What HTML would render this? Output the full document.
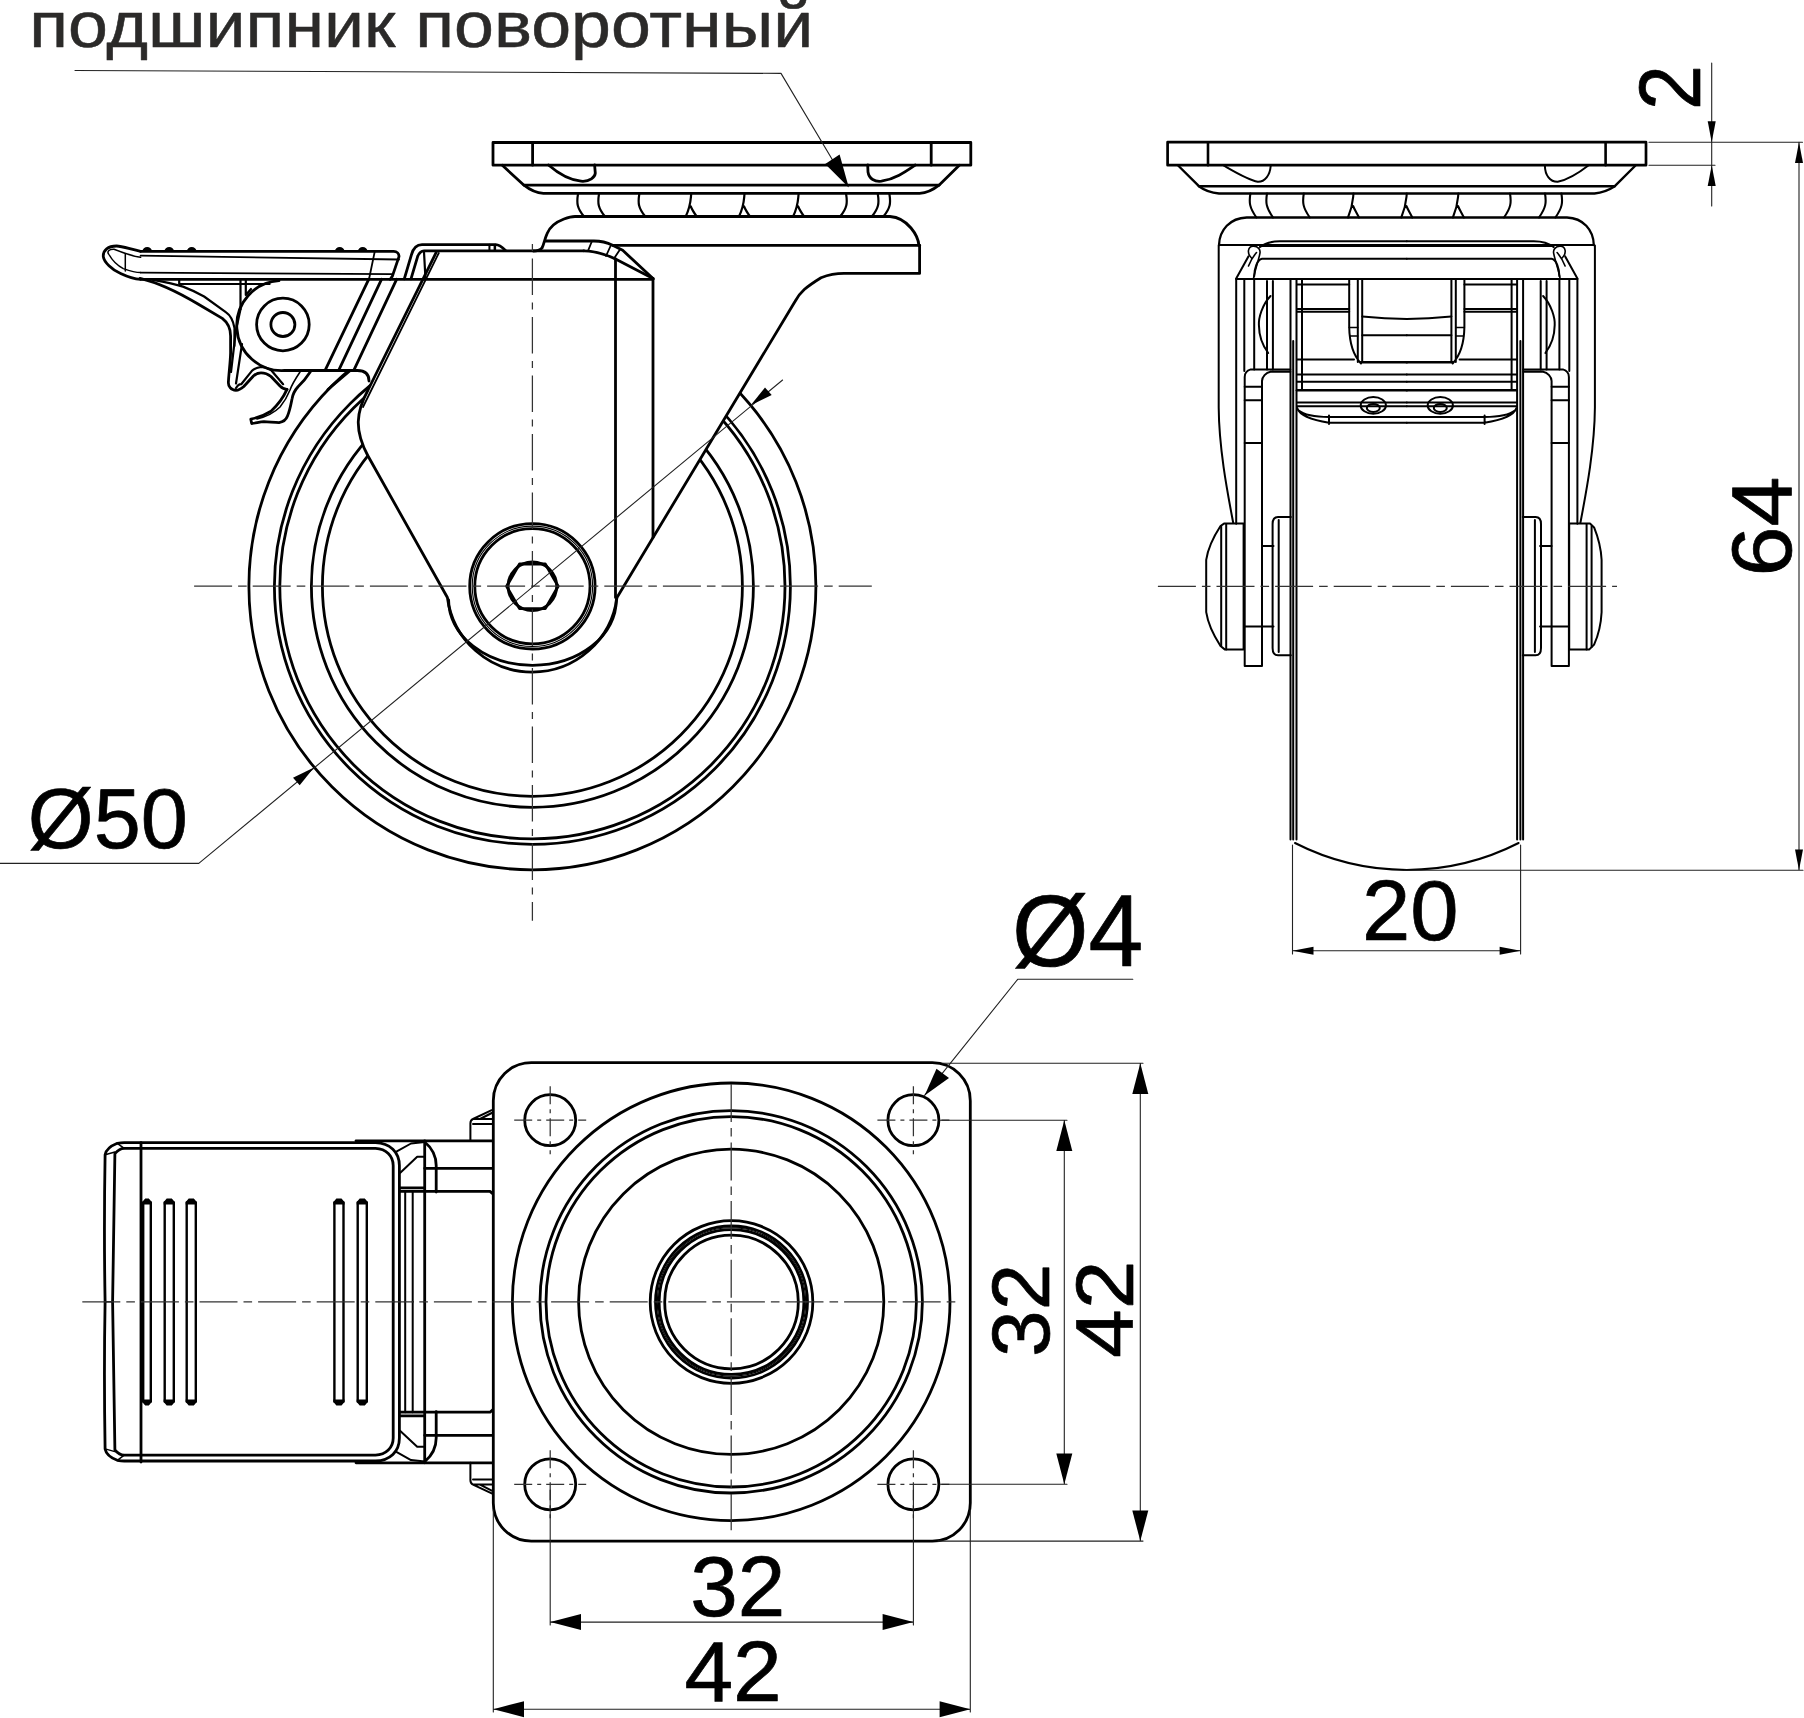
<!DOCTYPE html>
<html><head><meta charset="utf-8">
<style>
html,body{margin:0;padding:0;background:#fff;width:1804px;height:1718px;overflow:hidden}
svg{display:block}
.t{font-family:"Liberation Sans",sans-serif}
</style></head>
<body>
<svg width="1804" height="1718" viewBox="0 0 1804 1718">
<rect width="1804" height="1718" fill="#fff"/>
<g fill="none" stroke-linecap="round" stroke-linejoin="round">

<!-- ============ TEXTS ============ -->
<g class="t" fill="#000" stroke="#000" stroke-width="0.7" id="texts">
  <text x="29.2" y="46.6" font-size="64" fill="#2b2a29" stroke="#2b2a29" stroke-width="0.5" textLength="784" lengthAdjust="spacingAndGlyphs">подшипник поворотный</text>
  <text x="1362.00" y="940.00" font-size="86.04" textLength="96.68" lengthAdjust="spacingAndGlyphs">20</text>
  <text x="27.80" y="848.30" font-size="85.33" textLength="160.08" lengthAdjust="spacingAndGlyphs">Ø50</text>
  <text x="1012.00" y="965.50" font-size="101.07" textLength="131.34" lengthAdjust="spacingAndGlyphs">Ø4</text>
  <text x="690.20" y="1616.00" font-size="84.33" textLength="95.00" lengthAdjust="spacingAndGlyphs">32</text>
  <text x="684.40" y="1700.50" font-size="86.05" textLength="97.43" lengthAdjust="spacingAndGlyphs">42</text>
  <text transform="translate(1700.00 110.00) rotate(-90)" x="0" y="0" font-size="86.91" textLength="44.91" lengthAdjust="spacingAndGlyphs">2</text>
  <text transform="translate(1791.00 576.50) rotate(-90)" x="0" y="0" font-size="85.21" textLength="99.99" lengthAdjust="spacingAndGlyphs">64</text>
  <text transform="translate(1048.50 1357.00) rotate(-90)" x="0" y="0" font-size="82.10" textLength="93.31" lengthAdjust="spacingAndGlyphs">32</text>
  <text transform="translate(1132.50 1358.00) rotate(-90)" x="0" y="0" font-size="81.57" textLength="97.58" lengthAdjust="spacingAndGlyphs">42</text>
</g>

<!-- SIDE VIEW -->
<g id="side" stroke="#000" stroke-width="2.8">
  <!-- wheel circles -->
  <circle cx="532.4" cy="586.3" r="283.5"/>
  <circle cx="532.4" cy="586.3" r="258"/>
  <circle cx="532.4" cy="586.3" r="252.6"/>
  <circle cx="532.4" cy="586.3" r="221"/>
  <circle cx="532.4" cy="586.3" r="210"/>
  <!-- fork white fill -->
  <path fill="#fff" stroke="none" d="M437 244 L360 408.5 C355 418 356 436 368 456 L447.4 597.5 A85.5 85.5 0 0 0 617 597.5 L795 301.5 C800 292 806 287 821 277.7 L844 273.4 L920 273.4 L920 244 Z"/>
  <!-- lug/arm white fill -->
  <path fill="#fff" stroke="none" d="M282.9 280.6 A44 44 0 0 0 282.9 370.5 L357.4 370.5 Q369 371 369 382 L440 279 Z"/>
  <!-- fork edges -->
  <path d="M436.3 252.2 L368.3 389.5 C356 412 354 430 368 456 L447.4 597.5 A85.5 85.5 0 0 0 617 597.5 L795 301.5 C800 292 806 287 821 277.7 C828 275 836 273.4 844 273.4 L919.6 273.4 V245.3"/>
  <path d="M438.8 253 L363 407" stroke-width="1.8"/>
  <path d="M424 252 L425.5 279" stroke-width="2.2"/>
  <path d="M448.6 600 A83.85 65.3 0 0 0 616.3 600"/>
  <!-- fork verticals -->
  <path d="M615.5 259 V597.5 M653 278.5 V537.6"/>
  <!-- hub -->
  <circle cx="532.4" cy="586.3" r="62.7"/>
  <circle cx="532.4" cy="586.3" r="60.2" stroke-width="1.1"/>
  <circle cx="532.4" cy="586.3" r="57.6"/>
  <circle cx="532.4" cy="586.3" r="24.3"/>
  <path d="M506.6 586.3 L519.5 564 H545.3 L558.2 586.3 L545.3 608.6 H519.5 Z" stroke-width="2.8"/>
  <!-- long top line of fork body -->
  <path d="M140.6 279.3 H653"/>
  <!-- lug -->
  <path d="M279 280.6 A44 44 0 0 0 284.5 370.5 H357.4 C365 370.5 369 374 369 381"/>
  <circle cx="282.9" cy="324.5" r="26.3"/>
  <circle cx="282.9" cy="324.5" r="12"/>
  <!-- lever lines -->
  <path d="M325.2 370.1 L368.7 279.3 M338.8 370.1 L381.5 279.3 M353.9 370.1 L396.6 279.3"/>
  <path d="M327.9 389.5 L349.7 370.9"/>
  <!-- brace -->
  <path d="M404.3 278.8 L411.4 254.8 C413 249 416 244.6 422 244.6 H495.7 C499 244.6 502 247 505.5 250.5"/>
  <path d="M411 278.8 L417.6 256.6 C419 253 421 250.8 424 250.8 H583.8"/>
  <path d="M489.5 244.6 V250.8 M495.3 244.6 V250.8" stroke-width="1.6"/>
  <!-- pedal -->
  <path d="M140.6 251.3 H393.7 C397 251.3 399 254 399 256.6 L392.4 276.1 L390.2 279.3"/>
  <path d="M140.6 255.7 L399 259.5" stroke-width="1.8"/>
  <path d="M140.6 272.6 L392.4 274.2" stroke-width="1.8"/>
  <path d="M374.6 252.2 L368.9 279.7" stroke-width="1.8"/>
  <path d="M140.6 251.3 C130 249 122 246 116.6 246 C108 246 103 250 103.3 256.6 C104 262 112 270 120.6 273.5 C128 277 135 279 140.6 279.3"/>
  <path d="M140.6 257.3 C133 256.5 126 254 114 249.3 C108.6 249 107 252 108.6 254 C112 260 118 266 123.3 268.6 C130 271 136 272.6 140.6 272.6" stroke-width="1.5"/>
  <path d="M125.3 254 V271" stroke-width="1.5"/>
  <g fill="#000" stroke="none">
    <path d="M142.5 251.3 a4.7 4.2 0 0 1 9.4 0Z M164.5 251.3 a4.7 4.2 0 0 1 9.4 0Z M187 251.3 a4.7 4.2 0 0 1 9.4 0Z M335 251.3 a4.7 4.2 0 0 1 9.4 0Z M358 251.3 a4.7 4.2 0 0 1 9.4 0Z"/>
  </g>
  <!-- arm below pedal -->
  <path d="M179.2 284 H269.6 M179.2 279.3 V284" stroke-width="2.2"/>
  <path d="M240.5 280 V309.3 M245.8 280 V295 L251 289" stroke-width="2.2"/>
  <path d="M140 278.3 C160 283 178 292 198 304 L222.3 318.4 C227 322 230.6 328 230.6 336 L230.6 353 C230.4 362 229 372 228.4 382 C228 386 231 390.3 235.9 390.3 C239 390.3 241 389 243.8 386.5 L253.4 376 C256 373.5 258 372.8 261 372.8 C265 372.8 268 374 271 376.5 L280 386 C282 388 284 389.4 287 389.4"/>
  <path d="M152.7 279.8 C165 282 175 284 183 286.6 C192 290 198 293 204.1 296.5 L226.1 312.4 C230 315 233 320 234.5 328 L234.4 346" stroke-width="2.2"/>
  <path d="M240.5 309.3 L235.9 330.5 L231 372 M242 344 L236 383.5 M236 388 C238 385 240 384 241.2 384.2 L251.7 371.1 C254 368.5 257 367.5 261 367 C265 367 268 368 271 370 L283.1 384.2" stroke-width="2.2"/>
  <!-- hook -->
  <path d="M287 389.4 C284 396 280 403 271 411.2 C265 415 257 418 250.8 419.1 L251.7 423.5 C256 423 260 422 264 421.7 C270 422 275 422.6 279 422.6 C283 422 286 420 287.5 416 C290 410 291 404 292 399 C293 393 296 389 298 386.8 C302 383 305 380 310.2 372"/>
  <path d="M257 419 C265 417 274 413 280 407 C285 401 288 395 290 390 C292 384 296 378 300 372" stroke-width="1.6"/>
  <!-- top assembly -->
  <rect x="493" y="142.5" width="477.8" height="22.7" fill="#fff"/>
  <path d="M532.6 142.5 V165.2 M931.2 142.5 V165.2"/>
  <path d="M502.3 165.3 L524 185.2 H939 L959.3 165.3"/>
  <path d="M524 185.2 C530 190 536 193 543.4 193.4 H919.6 C927 193 933 190 939 185.2"/>
  <path d="M548.5 165 C560 175 570 180 581 181.2 C590 182 595 177 595.3 173.2 L594.6 165"/>
  <path d="M867.7 165 L868 172 C869 179 875 182 881.4 181.2 C895 179 905 172 915.3 165"/>
  <path d="M578 194 C576.5 203 577 208 584 216.5 M599 194 C597.5 203 598 208 605 216.5 M639.3 194 C637.8 203 638.3 208 645.3 216.5 M691.2 194 C690.4000000000001 202 690.7 206 685.7 216.5 M690.8000000000001 206.5 C692.2 210 694.2 213 696.7 216.5 M744.5 194 C743.7 202 744.0 206 739.0 216.5 M744.1 206.5 C745.5 210 747.5 213 750.0 216.5 M798.6 194 C797.8000000000001 202 798.1 206 793.1 216.5 M798.2 206.5 C799.6 210 801.6 213 804.1 216.5 M846.1 194 C847.6 203 847.1 208 840.1 216.5 M877.8 194 C879.3 203 878.8 208 871.8 216.5 M889.4 194 C890.9 203 890.4 208 883.4 216.5" stroke-width="2.2"/>
  <!-- housing -->
  <path d="M533.3 251 C537 251 540 250 542 248 C544 244 545 238 547 233.8 C550 226 556 222 564 219 C568 217.5 572 216.5 575 216.5 H890 C898 217 906 222 911 228 C916 234 918.5 240 918.9 245.3"/>
  <path d="M545.6 241 H593.9 C600 241 607 242.5 612.6 245.3 L622.7 250.3 L653 278.5"/>
  <path d="M612.6 245.3 H919.6"/>
  <path d="M583.8 250.8 C595 251 605 254 615.5 259 L653 278.5"/>
  <path d="M592 241 L588 250.8 M611 245 L606 256 M620 249.5 L614 258.5" stroke-width="1.8"/>
  <path d="M494.4 245.3 V250.8 M489.4 245.3 V250.8" stroke-width="1.6"/>
</g>

<!-- FRONT VIEW -->
<g id="front" stroke="#000" stroke-width="2">
  <!-- plate -->
  <rect x="1167.6" y="142.2" width="478.4" height="23" stroke-width="2.7"/>
  <path d="M1208 142.2V165.2M1605.6 142.2V165.2" stroke-width="2.6"/>
  <path d="M1178.6 166L1198.9 186.2H1614.8L1635 166" stroke-width="2.4"/>
  <path d="M1198.9 186.2C1204 190 1210 192.6 1219 193.5H1594.5C1603 192.6 1609 190 1614.8 186.2" stroke-width="2.4"/>
  <path d="M1222.8 165C1235 172 1248 180 1257.8 181.8C1265 182 1270 175 1270.7 166M1544.9 166C1545 175 1550 182 1557.7 181.8C1567 180 1580 172 1589 165"/>
  <path d="M1250.4 193.5 C1248.9 202.5 1249.4 207.5 1256.4 217.5 M1267 193.5 C1265.5 202.5 1266 207.5 1273 217.5 M1303.8 193.5 C1302.3 202.5 1302.8 207.5 1309.8 217.5 M1353.5 193.5 C1352.7 201.5 1353.0 205.5 1348.0 217.5 M1353.1 206.0 C1354.5 209.5 1356.5 212.5 1359.0 217.5 M1406.8 193.5 C1406.0 201.5 1406.3 205.5 1401.3 217.5 M1406.3999999999999 206.0 C1407.8 209.5 1409.8 212.5 1412.3 217.5 M1458.4 193.5 C1457.6000000000001 201.5 1457.9 205.5 1452.9 217.5 M1458.0 206.0 C1459.4 209.5 1461.4 212.5 1463.9 217.5 M1510 193.5 C1511.5 202.5 1511 207.5 1504 217.5 M1545 193.5 C1546.5 202.5 1546 207.5 1539 217.5 M1561.4 193.5 C1562.9 202.5 1562.4 207.5 1555.4 217.5" stroke-width="2.1"/>
  <path d="M1246.7 217.5H1567C1583 218 1593.5 230 1593.8 245.1M1246.7 217.5C1230 218 1219.5 230 1219 245.1" stroke-width="2.3"/>
  <path d="M1219 245.1H1593.8"/>
  <g id="fhalf">
    <path d="M1218.7 245.4V407.6C1219 450 1228 495 1233.2 522.8"/>
    <path d="M1260 247.1C1265 243 1272 241.3 1279.8 241.3H1406.8M1260 246H1406.8"/>
    <path d="M1406.8 258.8H1262C1257 260 1254.5 268 1254.2 276.2"/>
    <path d="M1251.5 258C1246.5 253 1248 246.5 1253 246.3C1258 246 1261 249.5 1259.8 254C1258 262 1255 270 1253.5 278.5M1248.5 266C1250.5 261 1253 256.5 1256.5 252.5" stroke-width="1.6"/>
    <path d="M1236.2 278.6L1248.4 256.4"/>
    <path d="M1236.2 279.1H1406.8"/>
    <path d="M1236.2 279V523.8M1244.3 279V371M1254.2 279V369.4M1267 281V369.4M1272.9 281V369.4M1290.5 279V839.4M1293.2 341V839.4M1296.5 279V839.4M1302 279V389.1"/>
    <path d="M1270.5 296C1262 305 1258.5 318 1258.9 325.1C1259 335 1262 345 1268.2 353"/>
    <path d="M1244.7 665.9V377C1244.7 372.5 1247 370.5 1250.7 369.4H1290.3M1262 665.9V381C1262 377 1266 372.5 1270.5 371.7H1290.3M1244.7 665.9H1262"/>
    <path d="M1244.7 386.8H1262M1244.7 400.2H1262M1244.7 443.1H1262M1244.7 626.5H1262"/>
    <path d="M1297 284.4H1349.2M1297 308.9H1349.2M1297 311.8H1349.2M1297 359.4H1354M1297 374.5H1406.8M1297 381.7H1406.8"/>
    <path d="M1297 390.3H1406.8" stroke-width="2.6"/>
    <path d="M1349.2 280V327C1349.5 345 1354 356 1361 363.5M1357.8 280V362M1362.2 280V362"/>
    <path d="M1361 362.3H1406.8" stroke-width="2.6"/>
    <path d="M1349.2 327.5H1357.8M1350 336H1357.8" stroke-width="1.5"/>
    <path d="M1362.2 316.4Q1385 318.5 1406.8 319M1362.2 335.3H1406.8"/>
    <path d="M1297 402.6H1406.8M1297 406.2H1406.8M1297.3 408.4C1300 416 1312 420 1329 422.8H1406.8M1298 410C1303 414 1314 417 1329 417H1406.8M1329 415.5V424"/>
    <ellipse cx="1373.3" cy="405.4" rx="12.6" ry="8.3"/>
    <ellipse cx="1373.3" cy="407.9" rx="6.5" ry="4"/>
    <!-- hub -->
    <path d="M1290.8 517H1278C1274 517 1272.6 520 1272.6 524V648C1272.6 652 1274 655.3 1278 655.3H1290.8M1278.7 520V652"/>
    <path d="M1262 545.9H1273.5M1262 626.5H1273.5"/>
  </g>
  <use href="#fhalf" transform="translate(2813.6 0) scale(-1 1)"/>
  <path d="M1243.6 523.6H1224L1220.5 526C1214 536 1208 548 1206.2 559.8V612.2C1208 624 1214 636 1220.5 646L1225 649.6H1243.6Z"/>
  <path d="M1221.2 526V646M1226.2 524V649.6"/>
  <path d="M1569.2 523.6H1590L1594.1 527.4C1598 537 1601 548 1601.6 559.8V612.2C1601 624 1598 636 1594.1 644.6L1589.1 649.6H1569.2Z"/>
  <path d="M1586.6 524V649.6M1591.6 526V647"/>
  <path d="M1295 843A245.8 245.8 0 0 0 1518.6 843" stroke-width="2"/>
</g>

<!-- BOTTOM VIEW -->
<g id="bottom" stroke="#000" stroke-width="2.8">
  <!-- pedal top view (symmetric halves) -->
  <g id="pedhalf">
    <path d="M105.1 1301.8 Q103.8 1230 105.1 1154.7 C106 1150 109 1146.6 117.3 1143.3 C120 1142.8 122 1142.6 124.2 1142.6 H375.5 C390 1143 399.4 1152 399.4 1165.6 V1301.8"/>
    <path d="M112.6 1301.8 Q113.5 1230 114.9 1153.6 C118 1150 121 1148.4 124.2 1148.4 H375.5 C386 1148.8 393.2 1156 393.2 1165.6 V1301.8"/>
    <path d="M105.1 1154.7 L114.9 1152 M117.3 1143.3 L124.2 1148.4" stroke-width="1.5"/>
    <path d="M356 1140.8 H493"/>
    <path d="M424.7 1140.8 V1301.8"/>
    <path d="M424.7 1142 C432 1148 436.2 1156 436.2 1165.6 V1192"/>
    <path d="M424.7 1168.3 H493 M399.4 1191.4 H490 L493 1194 M400 1187.8 H424.7"/>
    <path d="M400.3 1172.7 L417.2 1156.8 H424.7 M396.8 1151.4 L411 1143.5 L424.7 1142" stroke-width="2"/>
    <path d="M405.2 1191.4 V1301.8 M412.7 1191.4 V1301.8" stroke-width="2"/>
    <path d="M470.4 1140.8 V1123.5 C470.4 1121 471.5 1119.5 473 1119 H493 M473 1124 H493 M473 1119 L491.7 1110.2 M480 1119 L491.7 1113" stroke-width="2"/>
  </g>
  <use href="#pedhalf" transform="translate(0 2603.6) scale(1 -1)"/>
  <path d="M141 1142.6 V1462"/>
  <path d="M112.6 1301.8 H105.1" stroke-width="1.6"/>
  <!-- slots -->
  <g stroke-width="2.4">
    <path d="M143.2 1202.5V1401.5M150.8 1202.5V1401.5"/>
    <path d="M164.7 1202.5V1401.5M173.8 1202.5V1401.5"/>
    <path d="M186.7 1202.5V1401.5M195.8 1202.5V1401.5"/>
    <path d="M334.4 1202.5V1401.5M343.5 1202.5V1401.5"/>
    <path d="M357.7 1202.5V1401.5M366.8 1202.5V1401.5"/>
    <path d="M142.2 1204.5V1202L145.2 1198.5H148.8L151.8 1202V1204.5Z M142.2 1399.5V1402L145.2 1405.5H148.8L151.8 1402V1399.5Z M163.7 1204.5V1202L166.7 1198.5H171.8L174.8 1202V1204.5Z M163.7 1399.5V1402L166.7 1405.5H171.8L174.8 1402V1399.5Z M185.7 1204.5V1202L188.7 1198.5H193.8L196.8 1202V1204.5Z M185.7 1399.5V1402L188.7 1405.5H193.8L196.8 1402V1399.5Z M333.4 1204.5V1202L336.4 1198.5H341.5L344.5 1202V1204.5Z M333.4 1399.5V1402L336.4 1405.5H341.5L344.5 1402V1399.5Z M356.7 1204.5V1202L359.7 1198.5H364.8L367.8 1202V1204.5Z M356.7 1399.5V1402L359.7 1405.5H364.8L367.8 1402V1399.5Z " fill="#000" stroke="none"/>
  </g>
  <!-- plate -->
  <rect x="493.3" y="1062.7" width="477" height="478.4" rx="38" fill="#fff"/>
  <g>
    <circle cx="731.2" cy="1301.8" r="218.8"/>
    <circle cx="731.2" cy="1301.8" r="191.2"/>
    <circle cx="731.2" cy="1301.8" r="185.2"/>
    <circle cx="731.2" cy="1301.8" r="152.6"/>
    <circle cx="731.5" cy="1302" r="81.3"/>
    <circle cx="731.5" cy="1302" r="76"/>
    <circle cx="731.5" cy="1302" r="74.2" stroke-width="1.1"/>
    <circle cx="731.5" cy="1302" r="72.4"/>
    <circle cx="731.5" cy="1302" r="66.8"/>
    <circle cx="550.2" cy="1120.2" r="25.5"/>
    <circle cx="913.4" cy="1120.2" r="25.5"/>
    <circle cx="550.2" cy="1484.3" r="25.5"/>
    <circle cx="913.4" cy="1484.3" r="25.5"/>
  </g>
</g>

<!-- ============ CENTER LINES ============ -->
<g id="cl" stroke="#333" stroke-width="1.25" stroke-linecap="butt">
  <path d="M194.1 586.2H871.8" stroke-dasharray="38 6 8.6 6"/>
  <path d="M532.4 244V920.8" stroke-dasharray="36.5 7.5 7 7.5" stroke-dashoffset="44"/>
  <path d="M1157.9 586.4H1617" stroke-dasharray="38 6 8.6 6"/>
  <path d="M82.3 1301.8H958.2" stroke-dasharray="38 6 8.6 6"/>
  <path d="M731.2 1083.9V1530.3" stroke-dasharray="38 6 8.6 6"/>
  <path d="M514.2 1120.2H586.2M550.2 1086.2V1154.2" stroke-dasharray="18 5 4 5"/>
  <path d="M877.4 1120.2H949.4M913.4 1086.2V1154.2" stroke-dasharray="18 5 4 5"/>
  <path d="M514.2 1484.3H586.2M550.2 1450.3V1518.3" stroke-dasharray="18 5 4 5"/>
  <path d="M877.4 1484.3H949.4M913.4 1450.3V1518.3" stroke-dasharray="18 5 4 5"/>
</g>

<!-- ============ DIMENSIONS ============ -->
<g id="dims" stroke="#222" stroke-width="1.1">
  <!-- leader top -->
  <path d="M75 70.5L781 73.4L848 186"/>
  <!-- 2 -->
  <path d="M1649 142.3H1802.5M1649 165.3H1715M1711.7 63V206"/>
  <!-- 64 -->
  <path d="M1799 142.3V870M1404 870.2H1803"/>
  <!-- 20 -->
  <path d="M1292.5 845V954M1520.6 845V954M1292.5 950.7H1520.6"/>
  <!-- Ø50 leader -->
  <path d="M0 863.4H198.8L782.6 380"/>
  <!-- Ø4 leader -->
  <path d="M924.6 1095.4L1017.7 979.3H1132.8"/>
  <!-- bottom 32 / 42 horizontal -->
  <path d="M550.2 1490V1625M913.4 1490V1625M550.2 1622.1H913.4"/>
  <path d="M493.3 1510V1712M970.3 1510V1712M493.3 1709.2H970.3"/>
  <!-- right 32 / 42 vertical -->
  <path d="M940 1120.3H1067M940 1484.3H1067M1064.3 1120.3V1484.3"/>
  <path d="M943 1063.3H1143M938 1541.1H1143M1140.3 1063.3V1541.1"/>
</g>
<g id="arrows" fill="#000" stroke="none">
  <!-- leader arrow top -->
  <path d="M848.8 187.5L825.2 163.9L839.6 154.5Z"/>
  <!-- 2 -->
  <path d="M1711.7 142.3L1707.7 121.3H1715.7Z"/>
  <path d="M1711.7 165.3L1707.7 186H1715.7Z"/>
  <!-- 64 -->
  <path d="M1799 142.3L1795 163H1803Z"/>
  <path d="M1799 870.2L1795 849.5H1803Z"/>
  <!-- 20 -->
  <path d="M1292.5 950.7L1313.5 946.7V954.7Z"/>
  <path d="M1520.6 950.7L1499.6 946.7V954.7Z"/>
  <!-- Ø50 -->
  <path d="M314 767.5L293 777.7L299.7 785.2Z"/>
  <path d="M750.7 405.3L771.7 395.1L765 387.6Z"/>
  <!-- Ø4 -->
  <path d="M924.6 1095.4L936.5 1068.8L949 1077.9Z"/>
  <!-- 32 h -->
  <path d="M550.2 1622.1L581 1614.1V1630.1Z"/>
  <path d="M913.4 1622.1L882.6 1614.1V1630.1Z"/>
  <!-- 42 h -->
  <path d="M493.3 1709.2L524 1701.2V1717.2Z"/>
  <path d="M970.3 1709.2L939.6 1701.2V1717.2Z"/>
  <!-- 32 v -->
  <path d="M1064.3 1120.3L1056.3 1151V1151H1072.3Z"/>
  <path d="M1064.3 1484.3L1056.3 1453.6H1072.3Z"/>
  <!-- 42 v -->
  <path d="M1140.3 1063.3L1132.3 1094H1148.3Z"/>
  <path d="M1140.3 1541.1L1132.3 1510.4H1148.3Z"/>
</g>

</g>
</svg>
</body></html>
